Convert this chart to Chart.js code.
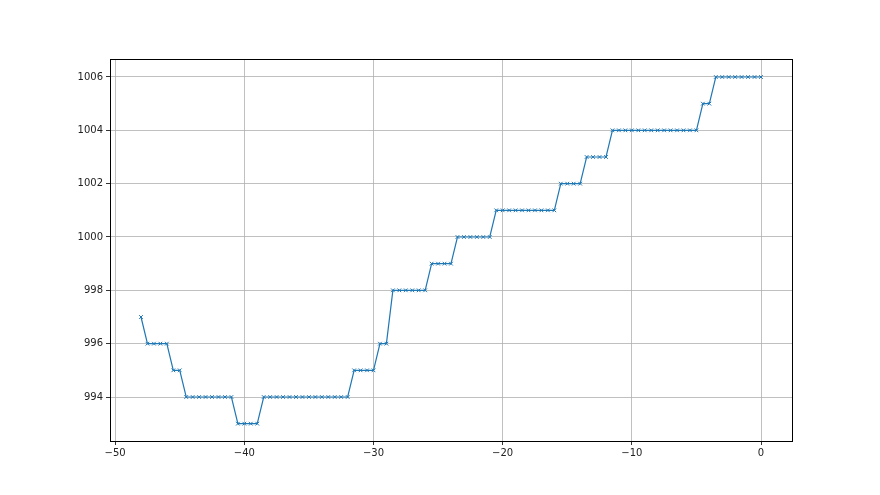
<!DOCTYPE html>
<html>
<head>
<meta charset="utf-8">
<script src="https://cdn.jsdelivr.net/npm/chart.js@4/dist/chart.umd.min.js"></script>
<style>
  html, body { margin: 0; padding: 0; background: #fff; }
  #wrap { width: 880px; height: 495px; }
</style>
</head>
<body>
<div id="wrap"><canvas id="pressure" width="880" height="495"></canvas></div>
<script>
// x positions (half-unit steps)
const xValues = [
  -48, -47.5, -47, -46.5, -46, -45.5, -45, -44.5, -44, -43.5,
  -43, -42.5, -42, -41.5, -41, -40.5, -40, -39.5, -39, -38.5,
  -38, -37.5, -37, -36.5, -36, -35.5, -35, -34.5, -34, -33.5,
  -33, -32.5, -32, -31.5, -31, -30.5, -30, -29.5, -29, -28.5,
  -28, -27.5, -27, -26.5, -26, -25.5, -25, -24.5, -24, -23.5,
  -23, -22.5, -22, -21.5, -21, -20.5, -20, -19.5, -19, -18.5,
  -18, -17.5, -17, -16.5, -16, -15.5, -15, -14.5, -14, -13.5,
  -13, -12.5, -12, -11.5, -11, -10.5, -10, -9.5, -9, -8.5,
  -8, -7.5, -7, -6.5, -6, -5.5, -5, -4.5, -4, -3.5,
  -3, -2.5, -2, -1.5, -1, -0.5, 0
];

const yValues = [
  997, 996, 996, 996, 996, 995, 995, 994, 994, 994,
  994, 994, 994, 994, 994, 993, 993, 993, 993, 994,
  994, 994, 994, 994, 994, 994, 994, 994, 994, 994,
  994, 994, 994, 995, 995, 995, 995, 996, 996, 998,
  998, 998, 998, 998, 998, 999, 999, 999, 999, 1000,
  1000, 1000, 1000, 1000, 1000, 1001, 1001, 1001, 1001, 1001,
  1001, 1001, 1001, 1001, 1001, 1002, 1002, 1002, 1002, 1003,
  1003, 1003, 1003, 1004, 1004, 1004, 1004, 1004, 1004, 1004,
  1004, 1004, 1004, 1004, 1004, 1004, 1004, 1005, 1005, 1006,
  1006, 1006, 1006, 1006, 1006, 1006, 1006
];

const xTicks = [-50, -40, -30, -20, -10, 0];
const yTicks = [994, 996, 998, 1000, 1002, 1004, 1006];

const lineColor = '#1f77b4';

// matplotlib-style minus sign
const fmt = (v) => (v < 0 ? '\u2212' + Math.abs(v) : String(v));

// box around the plot area
Chart.register({
    id: 'frame',
    afterDraw(chart) {
        const { ctx, chartArea } = chart;
        ctx.save();
        ctx.strokeStyle = '#000';
        ctx.lineWidth = 1;
        ctx.strokeRect(Math.round(chartArea.left) + 0.5, Math.round(chartArea.top) + 0.5,
            Math.round(chartArea.width), Math.round(chartArea.height));
        ctx.restore();
    }
});

new Chart(document.getElementById('pressure'), {
    type: 'line',
    data: {
        datasets: [{
            data: xValues.map((x, i) => ({ x: x, y: yValues[i] })),
            borderColor: lineColor,
            backgroundColor: lineColor,
            borderWidth: 1.2,
            pointStyle: 'crossRot',
            pointRadius: 2.6,
            pointBorderWidth: 1,
            pointHoverRadius: 2.6,
            tension: 0,
            fill: false
        }]
    },
    options: {
        responsive: false,
        animation: false,
        layout: {
            padding: { left: 0, right: 88, top: 59, bottom: 0 }
        },
        plugins: {
            legend: { display: false },
            tooltip: { enabled: false }
        },
        scales: {
            x: {
                type: 'linear',
                min: -50.4,
                max: 2.4,
                afterBuildTicks: (scale) => { scale.ticks = xTicks.map(v => ({ value: v })); },
                afterFit: (scale) => { scale.height = 54; },
                border: { display: false },
                grid: {
                    color: '#b0b0b0',
                    lineWidth: 0.8,
                    tickColor: '#000',
                    tickLength: 4
                },
                ticks: {
                    color: '#222',
                    padding: 2,
                    maxRotation: 0,
                    font: { family: 'DejaVu Sans', size: 10 },
                    callback: (v) => fmt(v)
                }
            },
            y: {
                type: 'linear',
                min: 992.35,
                max: 1006.675,
                afterBuildTicks: (scale) => { scale.ticks = yTicks.map(v => ({ value: v })); },
                afterFit: (scale) => { scale.width = 110; },
                border: { display: false },
                grid: {
                    color: '#b0b0b0',
                    lineWidth: 0.8,
                    tickColor: '#000',
                    tickLength: 4
                },
                ticks: {
                    color: '#222',
                    padding: 3,
                    font: { family: 'DejaVu Sans', size: 10 },
                    callback: (v) => fmt(v)
                }
            }
        }
    }
});
</script>
</body>
</html>
